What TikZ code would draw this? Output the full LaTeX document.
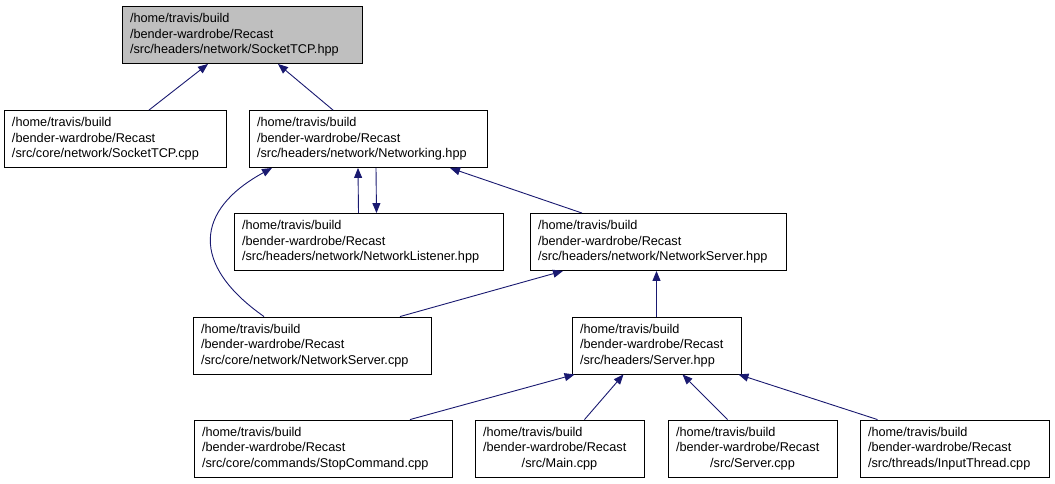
\documentclass[tikz,border=0pt]{standalone}
\usepackage{fontspec}
\setmainfont{Liberation Sans}
\usepackage{xcolor}
\usepackage{tikz}
\usetikzlibrary{arrows.meta}
\definecolor{midnight}{HTML}{191970}

\begin{document}
\begin{tikzpicture}[x=1pt, y=-1pt,
    file/.style={draw=black, fill=white, line width=0.9pt, inner xsep=8pt, inner ysep=0pt,
      minimum height=57pt, align=left, font=\fontsize{12.7}{15.5}\selectfont},
    root/.style={file, fill=black!25},
    incl/.style={-{Triangle[length=10pt, width=8pt]}, draw=midnight, line width=0.9pt},
  ]
    \useasboundingbox (0,0) rectangle (1055,483);
    \node[root, text width=224pt] (sockh) at (242,35) {/home/travis/build\\
      /bender-wardrobe/Recast\\/src/headers/network/SocketTCP.hpp};
    \node[file, text width=206pt] (sockc) at (115,139) {/home/travis/build\\
      /bender-wardrobe/Recast\\/src/core/network/SocketTCP.cpp};
    \node[file, text width=222pt] (neth) at (368,139) {/home/travis/build\\
      /bender-wardrobe/Recast\\/src/headers/network/Networking.hpp};
    \node[file, text width=253pt] (lsnh) at (368.5,242) {/home/travis/build\\
      /bender-wardrobe/Recast\\/src/headers/network/NetworkListener.hpp};
    \node[file, text width=240pt] (nsrvh) at (658,242) {/home/travis/build\\
      /bender-wardrobe/Recast\\/src/headers/network/NetworkServer.hpp};
    \node[file, text width=222pt] (nsrvc) at (312,345.5) {/home/travis/build\\
      /bender-wardrobe/Recast\\/src/core/network/NetworkServer.cpp};
    \node[file, text width=153pt] (srvh) at (656.5,345.5) {/home/travis/build\\
      /bender-wardrobe/Recast\\/src/headers/Server.hpp};
    \node[file, text width=242pt] (stopc) at (323,448.5) {/home/travis/build\\
      /bender-wardrobe/Recast\\/src/core/commands/StopCommand.cpp};
    \node[file, text width=153pt] (mainc) at (559.5,448.5) {/home/travis/build\\
      /bender-wardrobe/Recast\\\makebox[153pt]{/src/Main.cpp}};
    \node[file, text width=153pt] (srvc) at (752.5,448.5) {/home/travis/build\\
      /bender-wardrobe/Recast\\\makebox[153pt]{/src/Server.cpp}};
    \node[file, text width=173pt] (inpc) at (954.5,448.5) {/home/travis/build\\
      /bender-wardrobe/Recast\\/src/threads/InputThread.cpp};

    \draw[incl] ([xshift=34pt]sockc.north) -- ([xshift=-34pt]sockh.south);
    \draw[incl] ([xshift=-35pt]neth.north) -- ([xshift=36pt]sockh.south);
    \draw[incl] ([xshift=-10pt]lsnh.north) -- ([xshift=-10pt]neth.south);
    \draw[incl] ([xshift=8pt]neth.south) -- ([xshift=8pt]lsnh.north);
    \draw[incl] ([xshift=-48pt]nsrvc.north) .. controls +(-74,-52) and +(-77,42) .. ([xshift=-96pt]neth.south);
    \draw[incl] ([xshift=-76pt]nsrvh.north) -- ([xshift=82pt]neth.south);
    \draw[incl] ([xshift=88pt]nsrvc.north) -- ([xshift=-95pt]nsrvh.south);
    \draw[incl] (srvh.north) -- (srvh.north |- nsrvh.south);
    \draw[incl] ([xshift=87pt]stopc.north) -- ([xshift=3pt]srvh.south west);
    \draw[incl] ([xshift=25pt]mainc.north) -- ([xshift=-33pt]srvh.south);
    \draw[incl] ([xshift=-25pt]srvc.north) -- ([xshift=26pt]srvh.south);
    \draw[incl] ([xshift=-77pt]inpc.north) -- ([xshift=-3pt]srvh.south east);
  \end{tikzpicture}
\end{document}
